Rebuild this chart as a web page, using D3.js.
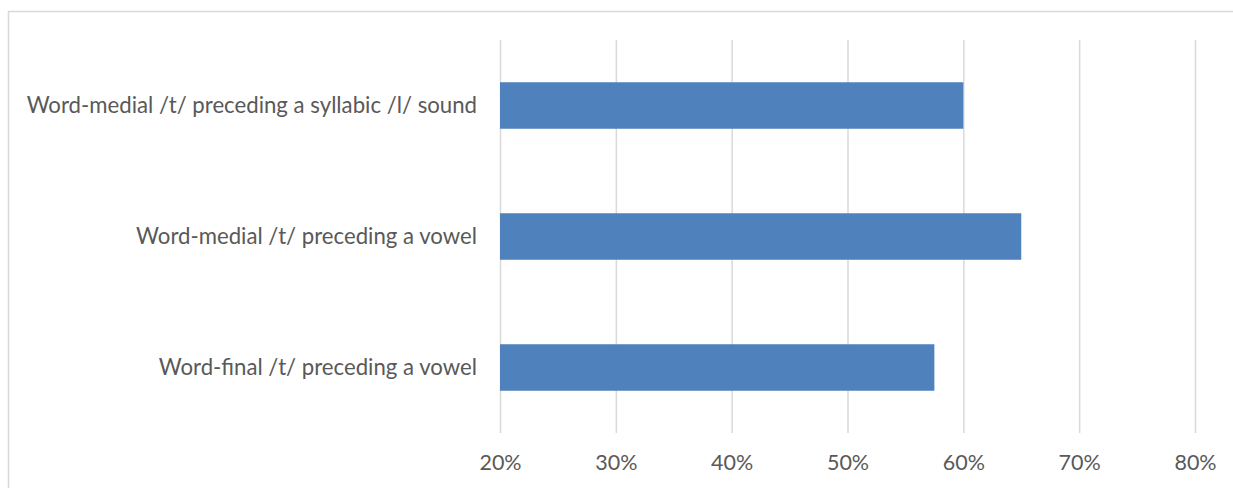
<!DOCTYPE html>
<html>
<head>
<meta charset="utf-8">
<script src="https://cdn.jsdelivr.net/npm/d3@7"></script>
<style>
  body { margin: 0; background: #fff; }
  svg { display: block; }
</style>
</head>
<body>
<div id="chart"></div>
<script>
// data
let categories = [
    "Word-medial /t/ preceding a syllabic /l/ sound",
    "Word-medial /t/ preceding a vowel",
    "Word-final /t/ preceding a vowel"
];
let values = [0.60, 0.65, 0.575];
let ticks = [0.2, 0.3, 0.4, 0.5, 0.6, 0.7, 0.8];

let width = 1233;
let height = 488;
let plotTop = 40;
let plotBottom = 433;
let plotLeft = 500;
let plotRight = 1195;
let textColor = "#595959";
let fontFam = "Lato, 'Open Sans', sans-serif";

let svg = d3.select('#chart')
    .append('svg')
    .attr('width', width)
    .attr('height', height);

// chart frame (only top and left edges fall in view)
svg.append('path')
    .attr('d', "M8.5," + height + "V11.5H" + width)
    .attr('fill', 'none')
    .attr('stroke', '#d9d9d9')
    .attr('stroke-width', 1.5);

let x = d3.scaleLinear()
    .domain([0.2, 0.8])
    .range([plotLeft, plotRight]);

let y = d3.scaleBand()
    .domain(categories)
    .range([plotTop, plotBottom])
    .paddingInner(0.645)
    .paddingOuter(0.3225);

// gridlines + tick labels
let xAxis = d3.axisBottom(x)
    .tickValues(ticks)
    .tickSize(-(plotBottom - plotTop))
    .tickSizeOuter(0)
    .tickPadding(22)
    .tickFormat(d3.format('.0%'));

let gx = svg.append('g')
    .attr('transform', 'translate(0,' + plotBottom + ')')
    .call(xAxis);
gx.select('.domain').remove();
gx.selectAll('.tick line')
    .attr('stroke', '#d9d9d9')
    .attr('stroke-width', 1.5);
gx.selectAll('.tick text')
    .attr('fill', textColor)
    .style('font-family', fontFam)
    .style('font-size', '21.5px');

// bars
svg.selectAll('rect.bar')
    .data(values)
    .enter()
    .append('rect')
    .attr('class', 'bar')
    .attr('x', x(0.2))
    .attr('y', function (d, i) { return y(categories[i]); })
    .attr('width', function (d) { return x(d) - x(0.2); })
    .attr('height', y.bandwidth())
    .attr('fill', '#4f81bd');

// category labels
let yAxis = d3.axisLeft(y)
    .tickSize(0)
    .tickPadding(23);
let gy = svg.append('g')
    .attr('transform', 'translate(' + plotLeft + ',0)')
    .call(yAxis);
gy.select('.domain').remove();
gy.selectAll('.tick text')
    .attr('fill', textColor)
    .style('font-family', fontFam)
    .style('font-size', '22.2px');
</script>
</body>
</html>
